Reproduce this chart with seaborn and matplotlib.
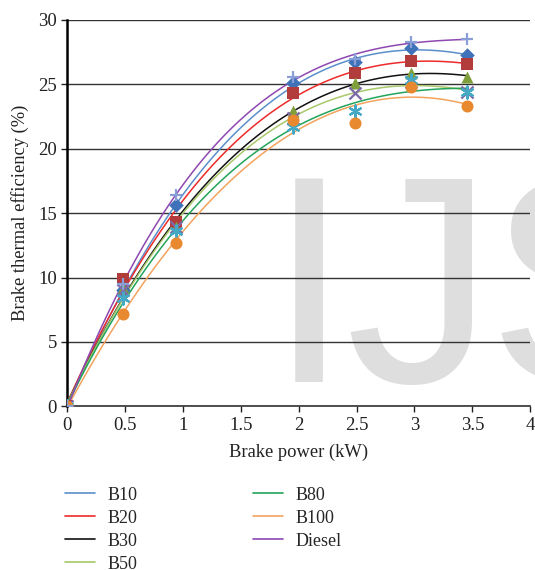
import numpy as np
import pandas as pd
import matplotlib
matplotlib.use("Agg")
import matplotlib.pyplot as plt
import seaborn as sns
from matplotlib.lines import Line2D

# brake thermal efficiency vs brake power, markers + 3rd order trendlines

power = [0, 0.48, 0.94, 1.95, 2.49, 2.97, 3.45]
b10 = [0, 9.0, 15.6, 25.1, 26.7, 27.8, 27.3]
b20 = [0, 9.9, 14.35, 24.3, 25.9, 26.8, 26.6]
b30 = [0, 9.2, 13.9, 22.9, 25.1, 25.9, 25.6]
b50 = [0, 9.0, 13.9, 22.4, 24.3, 25.2, 24.4]
b80 = [0, 8.4, 13.6, 21.7, 22.9, 25.3, 24.4]
b100 = [0, 7.2, 12.7, 22.2, 22.0, 24.8, 23.3]
diesel = [0, 9.5, 16.4, 25.6, 27.0, 28.3, 28.5]

fuels = ["B10", "B20", "B30", "B50", "B80", "B100", "Diesel"]
series = [b10, b20, b30, b50, b80, b100, diesel]
line_col = ["#5b8fcb", "#ee2a2a", "#111111", "#a9c86b", "#22a45a", "#f3a35e", "#8e48b0"]
mark_col = ["#3f72b8", "#b23b3b", "#7f9f3c", "#7d69a8", "#45a8c4", "#e8892f", "#8a9fd8"]
mark_sty = ["D", "s", "^", "x", (6, 2, 0), "o", "+"]

df = pd.DataFrame({"power": power * len(fuels),
                   "bte": sum(series, []),
                   "fuel": np.repeat(fuels, len(power))})

sns.set_style("white")
plt.rcParams["font.family"] = ["Liberation Serif", "DejaVu Serif"]

fig = plt.figure(figsize=(5.35, 5.70), dpi=100)
ax = fig.add_axes([0.126, 0.287, 0.865, 0.678])
ax.patch.set_alpha(0)

# watermark letters behind the plot
for letter, xpos in zip("IJS", [0.5, 0.645, 0.912]):
    fig.text(xpos, 0.329, letter, fontsize=213, color="#dedede",
             family=["Liberation Sans Narrow", "Liberation Sans"],
             ha="left", va="baseline", zorder=-5)

for f, lc in zip(fuels, line_col):
    sub = df[df["fuel"] == f]
    sns.regplot(data=sub, x="power", y="bte", order=3, ci=None, ax=ax,
                scatter=False, line_kws={"color": lc, "lw": 1.1, "zorder": 3})
for f, mc, ms in zip(fuels, mark_col, mark_sty):
    sub = df[df["fuel"] == f]
    lw = 1.6 if ms in ("x", "+", (6, 2, 0)) else 0
    ax.scatter(sub["power"], sub["bte"], marker=ms, s=75 if ms != "D" else 55,
               color=mc, linewidths=lw, zorder=4)

ax.set_xlim(0, 4)
ax.set_ylim(0, 30)
ax.set_xticks(np.arange(0, 4.01, 0.5))
ax.set_xticklabels(["0", "0.5", "1", "1.5", "2", "2.5", "3", "3.5", "4"])
ax.set_yticks(range(0, 31, 5))
ax.yaxis.grid(True, color="#333333", lw=1.0)
ax.xaxis.grid(False)
ax.set_axisbelow(True)
for s in ["top", "right"]:
    ax.spines[s].set_visible(False)
ax.spines["left"].set_color("black")
ax.spines["left"].set_linewidth(1.8)
ax.spines["bottom"].set_color("#333333")
ax.spines["bottom"].set_linewidth(1.2)
ax.tick_params(axis="both", labelsize=13.5, colors="#222222", length=4, width=1, direction="out",
               bottom=True, left=True)
ax.set_xlabel("Brake power (kW)", fontsize=13.3, color="#222222", labelpad=7)
ax.set_ylabel("Brake thermal efficiency (%)", fontsize=13.3, color="#222222", labelpad=7)

handles = [Line2D([], [], color=c, lw=1.2) for c in line_col]
fig.legend(handles, fuels, loc="upper left", bbox_to_anchor=(0.105, 0.162), ncol=2,
           frameon=False, fontsize=13, handlelength=1.67, handletextpad=0.67,
           columnspacing=6.4, labelspacing=0.33, borderpad=0)

fig.savefig("out.png", dpi=100)
